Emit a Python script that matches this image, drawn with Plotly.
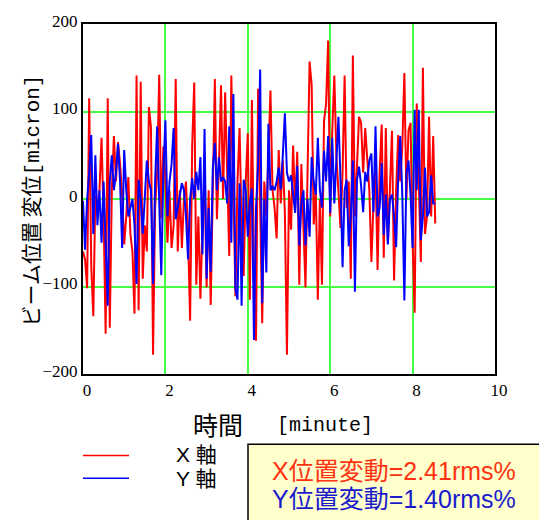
import numpy as np
import plotly.graph_objects as go

# Beam position displacement [micron], sampled every 0.05 minute
SAMPLE_MIN = 0.05

x_disp = [
    -60, -69, -102, 115, -76, -134, 4, -10, 10, 70,
    -20, -154, 115, -147, 10, 72, 20, 65, 40, 5,
    -52, -20, 25, -40, -60, -131, 141, -127, 134, -91,
    -30, -60, 105, 82, -178, -10, 30, 142, -22, 60,
    20, -50, 10, -56, -30, 137, -60, 10, -56, 0,
    20, -40, -139, 61, 133, -98, -20, -114, -30, 30,
    -101, 10, -121, 0, 137, -23, 40, 130, 0, 122,
    20, -65, 141, 10, -111, 20, 81, -30, -88, 20,
    75, -115, 113, -83, -162, 126, 10, -142, 20, -20,
    50, 124, 10, -10, -45, 56, -5, 44, -16, -178,
    10, -35, 61, -10, 54, -98, 40, -30, -101, 30,
    157, 130, -29, 10, -115, 0, -98, 89, 109, 181,
    -20, 78, 141, 50, 10, -33, 30, 141, -10, 20,
    -91, 164, -20, 40, 94, 87, 30, 81, 45, 10,
    -72, -5, 36, -81, 30, 85, -67, 81, -51, 20,
    78, -93, 10, 73, 20, 60, 144, 0, 78, 87,
    -50, -130, 109, 20, -72, 150, -40, -20, 94, -20,
    72, -28,
]

y_disp = [
    -2, -58, 0, 30, 73, -40, 50, -30, 10, -50,
    20, -60, -122, 20, 50, 10, 30, 63, 20, -56,
    56, 10, -20, -10, 0, -30, -97, 22, 0, -40,
    10, 44, 20, 10, -97, 20, 83, 10, -87, 30,
    90, -20, 20, 40, 81, -23, -10, 5, 18, 10,
    -20, -69, 0, 24, 0, 31, 10, 48, -63, 80,
    -91, -10, -83, 35, 64, 10, 48, 20, 25, 20,
    -5, 83, -50, 120, -103, -115, 18, -122, 22, 10,
    -43, -5, 12, -161, -10, 40, 148, -119, 0, -84,
    86, 10, 15, 10, 20, 36, 11, 50, 98, 30,
    20, 27, 5, -16, 38, -53, -5, 10, -53, 0,
    -43, 48, 20, 5, 70, 10, -10, 55, 20, 72,
    -16, 70, -5, 40, 94, 22, -78, 10, 22, -54,
    -20, 44, -106, 22, 37, 15, -15, 31, 20, 44,
    52, -15, 83, -20, -10, 41, -41, 5, -52, 0,
    5, -20, -55, 24, 72, 5, -116, 30, 44, 5,
    -56, 102, 10, 102, -47, -20, 36, -20, -15, 27,
    -5, -5,
]

x_ticks = [0, 2, 4, 6, 8, 10]
y_ticks = [-200, -100, 0, 100, 200]

legend_labels = ["X 軸", "Y 軸"]
rms_labels = ["X位置変動=2.41rms%", "Y位置変動=1.40rms%"]

RED = "#ff0000"
BLUE = "#0000ff"

W, H = 539, 520
ML, MR, MT, MB = 83, 44, 15, 146
PW, PH = W - ML - MR, H - MT - MB


def px_x(px):
    return (px - ML) / PW


def px_y(py):
    return (H - MB - py) / PH


t = np.arange(len(x_disp)) * SAMPLE_MIN

fig = go.Figure()
fig.add_trace(go.Scatter(x=t, y=x_disp, mode="lines",
                         line=dict(color=RED, width=2),
                         name=legend_labels[0], showlegend=False))
fig.add_trace(go.Scatter(x=t, y=y_disp, mode="lines",
                         line=dict(color=BLUE, width=2),
                         name=legend_labels[1], showlegend=False))

serif = "Liberation Serif, Times New Roman, serif"
cjk = "Noto Sans CJK JP, sans-serif"
sans_cjk = "Liberation Sans, Noto Sans CJK JP, sans-serif"
mono = "Liberation Mono, monospace"

axis_common = dict(
    showline=True, mirror=True, linecolor="black", linewidth=2,
    showgrid=True, gridcolor="#44ff44", gridwidth=2, zeroline=False,
    ticks="", tickfont=dict(family=serif, size=17, color="black"),
)

fig.update_layout(
    width=W, height=H,
    margin=dict(l=ML, r=MR, t=MT, b=MB),
    paper_bgcolor="white", plot_bgcolor="white",
    xaxis=dict(range=[0, 10], tickvals=x_ticks, ticklabelshift=4, **axis_common),
    yaxis=dict(range=[-200, 200], tickvals=y_ticks, ticklabelshift=-3, **axis_common),
)

shapes = [
    # legend sample lines
    dict(type="line", xref="paper", yref="paper",
         x0=px_x(83), x1=px_x(129), y0=px_y(457.5), y1=px_y(457.5),
         line=dict(color=RED, width=1.5)),
    dict(type="line", xref="paper", yref="paper",
         x0=px_x(83), x1=px_x(129), y0=px_y(481), y1=px_y(481),
         line=dict(color=BLUE, width=1.5)),
    # rms box
    dict(type="rect", xref="paper", yref="paper",
         x0=px_x(248), x1=px_x(545), y0=px_y(446), y1=px_y(525),
         fillcolor="#ffffcc", line=dict(color="black", width=1.5), layer="below"),
]

annotations = [
    dict(text="ビーム位置 変位<span style='font-family:Liberation Mono'>[micron]</span>",
         xref="paper", yref="paper", x=px_x(30), y=px_y(196),
         textangle=-90, showarrow=False, xanchor="center", yanchor="middle",
         font=dict(family=cjk, size=21, color="black")),
    dict(text="時間", xref="paper", yref="paper", x=px_x(218), y=px_y(427),
         showarrow=False, xanchor="center", yanchor="middle", borderpad=0,
         font=dict(family=sans_cjk, size=25, color="black")),
    dict(text="[minute]", xref="paper", yref="paper", x=px_x(325), y=px_y(427),
         showarrow=False, xanchor="center", yanchor="middle",
         font=dict(family=mono, size=20, color="black")),
    dict(text=legend_labels[0], xref="paper", yref="paper",
         x=px_x(175), y=px_y(457), borderpad=0,
         showarrow=False, xanchor="left", yanchor="middle",
         font=dict(family=sans_cjk, size=21, color="black")),
    dict(text=legend_labels[1], xref="paper", yref="paper",
         x=px_x(175), y=px_y(481), borderpad=0,
         showarrow=False, xanchor="left", yanchor="middle",
         font=dict(family=sans_cjk, size=21, color="black")),
    dict(text=rms_labels[0], xref="paper", yref="paper", x=px_x(270), y=px_y(473),
         showarrow=False, xanchor="left", yanchor="middle",
         font=dict(family=sans_cjk, size=25, color="#ff3311")),
    dict(text=rms_labels[1], xref="paper", yref="paper", x=px_x(270), y=px_y(502),
         showarrow=False, xanchor="left", yanchor="middle",
         font=dict(family=sans_cjk, size=25, color="#1a1acc")),
]

fig.update_layout(shapes=shapes, annotations=annotations)

fig.write_html("out.html")
